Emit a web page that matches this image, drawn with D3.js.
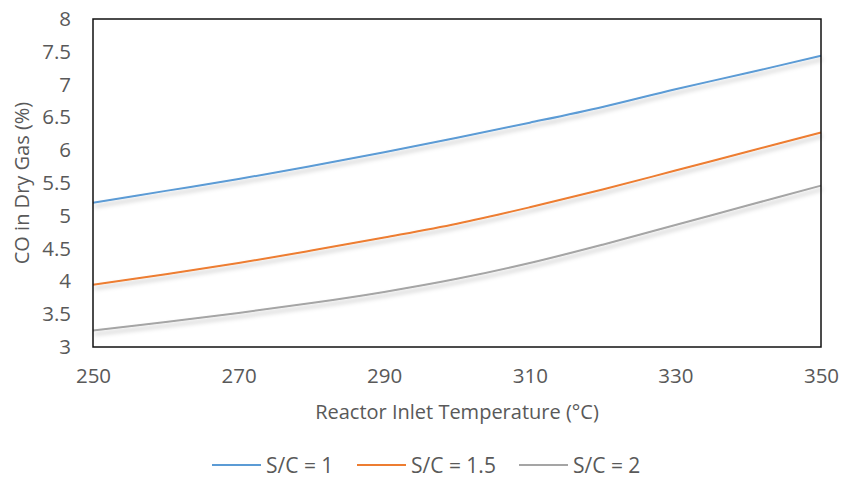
<!DOCTYPE html>
<html>
<head>
<meta charset="utf-8">
<script src="https://cdn.jsdelivr.net/npm/d3@7"></script>
<style>
  html, body { margin: 0; padding: 0; background: #fff; }
  svg { display: block; font-family: "Open Sans", Lato, sans-serif; }
</style>
</head>
<body>
<svg id="chart" width="843" height="494"></svg>
<script>
// Reactor inlet temperature (°C)
const temperatures = [250, 260, 270, 280, 290, 300, 310, 320, 330, 340, 350];
// CO content in dry gas (%) for each steam-to-carbon ratio
const coSC1   = [5.20, 5.38, 5.56, 5.76, 5.97, 6.19, 6.42, 6.66, 6.93, 7.18, 7.44];
const coSC15  = [3.95, 4.11, 4.28, 4.47, 4.67, 4.88, 5.13, 5.40, 5.69, 5.98, 6.27];
const coSC2   = [3.25, 3.38, 3.52, 3.67, 3.84, 4.04, 4.28, 4.56, 4.86, 5.16, 5.46];
const seriesNames = ["S/C = 1", "S/C = 1.5", "S/C = 2"];
const seriesColors = ["#5B9BD5", "#ED7D31", "#A5A5A5"];
const xTicks = [250, 270, 290, 310, 330, 350];
const yTicks = [3, 3.5, 4, 4.5, 5, 5.5, 6, 6.5, 7, 7.5, 8];

const series = [coSC1, coSC15, coSC2].map((vals, i) => ({
  name: seriesNames[i],
  color: seriesColors[i],
  points: vals.map((v, j) => ({ t: temperatures[j], v }))
}));

const svg = d3.select("#chart");
const plot = { left: 93, right: 821, top: 19, bottom: 347 };

const x = d3.scaleLinear().domain([250, 350]).range([plot.left, plot.right]);
const y = d3.scaleLinear().domain([3, 8]).range([plot.bottom, plot.top]);

// soft shadow under the data lines
const defs = svg.append("defs");
const f = defs.append("filter").attr("id", "shadow")
  .attr("x", "-5%").attr("y", "-50%").attr("width", "110%").attr("height", "200%");
f.append("feDropShadow").attr("dx", 1.5).attr("dy", 3.5).attr("stdDeviation", 2)
  .attr("flood-color", "#000").attr("flood-opacity", 0.25);

const textColor = "#595959";
const font = "'Open Sans', Lato, sans-serif";

// y axis labels
const yAxis = d3.axisLeft(y).tickValues(yTicks).tickSize(0).tickPadding(22)
  .tickFormat(d3.format("~g"));
const gy = svg.append("g").attr("transform", `translate(${plot.left},0)`).call(yAxis);
gy.select(".domain").remove();
gy.selectAll("text").attr("fill", textColor).style("font-size", "20.5px")
  .style("font-family", font);

// x axis labels
const xAxis = d3.axisBottom(x).tickValues(xTicks).tickSize(0).tickPadding(21)
  .tickFormat(d3.format("d"));
const gx = svg.append("g").attr("transform", `translate(0,${plot.bottom})`).call(xAxis);
gx.select(".domain").remove();
gx.selectAll("text").attr("fill", textColor).style("font-size", "20.5px")
  .style("font-family", font);

// data lines
const line = d3.line().x(d => x(d.t)).y(d => y(d.v)).curve(d3.curveCatmullRom.alpha(0.5));
svg.append("g").selectAll("path").data(series).join("path")
  .attr("d", d => line(d.points))
  .attr("fill", "none")
  .attr("stroke", d => d.color)
  .attr("stroke-width", 2)
  .attr("filter", "url(#shadow)");

// plot area border
svg.append("rect")
  .attr("x", plot.left).attr("y", plot.top)
  .attr("width", plot.right - plot.left).attr("height", plot.bottom - plot.top)
  .attr("fill", "none").attr("stroke", "#111").attr("stroke-width", 1.5);

// axis titles
svg.append("text")
  .attr("x", (plot.left + plot.right) / 2).attr("y", 419)
  .attr("text-anchor", "middle").attr("fill", textColor).style("font-size", "20px")
  .text("Reactor Inlet Temperature (°C)");

svg.append("text")
  .attr("transform", `translate(29,${(plot.top + plot.bottom) / 2}) rotate(-90)`)
  .attr("text-anchor", "middle").attr("fill", textColor).style("font-size", "20px")
  .text("CO in Dry Gas (%)");

// legend
const legendX = [212, 357, 519];
const legend = svg.append("g").selectAll("g").data(series).join("g")
  .attr("transform", (d, i) => `translate(${legendX[i]},465)`);
legend.append("line").attr("x1", 0).attr("x2", 49).attr("y1", 0).attr("y2", 0)
  .attr("stroke", d => d.color).attr("stroke-width", 2);
legend.append("text").attr("x", 54).attr("y", 7.5)
  .attr("fill", textColor).style("font-size", "21px")
  .text(d => d.name);
</script>
</body>
</html>
